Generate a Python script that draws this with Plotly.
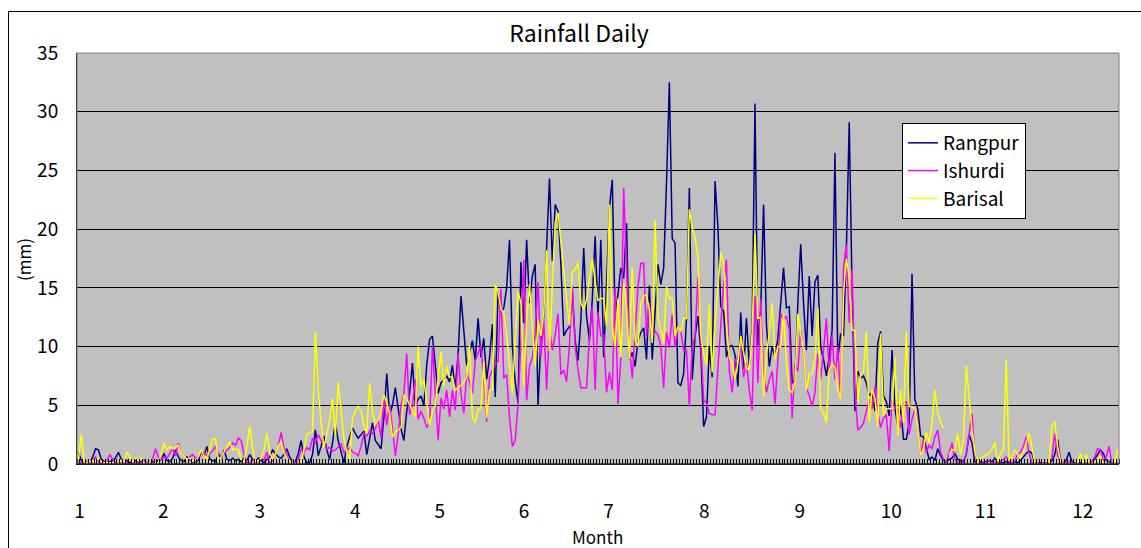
import plotly.graph_objects as go

FONT = "Noto Sans CJK JP"

days = list(range(1, 366))

# month tick labels and their positions (day index on the category axis)
month_labels = ["1", "2", "3", "4", "5", "6", "7", "8", "9", "10", "11", "12"]
month_label_pos = [1.4, 30.7, 64.5, 98.0, 127.6, 157.1, 186.7, 220.2, 253.7, 285.7, 318.7, 352.8]

rangpur = [
    # days 1-31
    1.0, 0.3, 0.1, 0.2, 0.1, 0.6, 1.3, 1.2, 0.4, 0.2,
    0.1, 0.2, 0.3, 0.5, 1.0, 0.4, 0.2, 0.3, 0.1, 0.2,
    0.3, 0.1, 0.2, 0.3, 0.1, 0.0, 0.2, 0.1, 0.3, 0.4,
    0.9,
    # days 32-59
    0.3, 0.2, 0.5, 1.2, 0.6, 0.3, 0.2, 0.6, 0.4, 0.1,
    0.2, 0.3, 1.0, 0.7, 1.5, 0.4, 0.3, 0.2, 0.8, 0.5,
    1.2, 0.4, 0.3, 0.5, 0.3, 0.4, 0.2, 0.5,
    # days 60-131
    0.3, 0.8, 0.4, 0.2, 0.5, 0.3, 0.1, 0.4, 0.6, 1.2,
    0.9, 0.6, 0.5, 0.8, 1.3, 0.6, 0.1, 0.2, 0.9, 2.0,
    0.6, 0.1, 0.1, 0.8, 2.9, 0.7, 1.5, 2.4, 1.2, 0.4,
    1.8, 3.5, 2.0, 1.1, 0.1, 1.5, 2.4, 3.1, 2.6, 2.2,
    2.5, 2.8, 0.8, 2.0, 3.5, 2.0, 1.6, 1.3, 4.0, 7.7,
    4.2, 5.0, 6.5, 4.8, 3.0, 2.0, 4.5, 6.0, 8.6, 5.0,
    5.5, 5.8, 5.0, 8.4, 10.6, 10.9, 8.4, 6.0, 6.9, 7.2,
    7.5, 7.0,
    # days 132-190
    8.4, 6.4, 9.4, 14.3, 11.0, 8.4, 9.5, 10.5, 8.8, 12.4,
    9.1, 10.7, 7.2, 9.0, 11.9, 5.7, 14.7, 12.9, 13.3, 15.0,
    19.1, 10.0, 7.0, 5.2, 17.2, 12.0, 19.1, 13.7, 16.0, 17.0,
    5.0, 10.7, 12.6, 18.2, 24.3, 17.3, 22.1, 21.5, 17.0, 10.9,
    11.4, 11.7, 14.7, 10.5, 8.8, 12.3, 18.4, 12.6, 10.5, 14.0,
    19.4, 12.6, 19.1, 9.1, 15.0, 21.8, 24.2, 12.5, 14.5,
    # days 191-249
    16.7, 15.8, 20.5, 8.9, 9.5, 8.3, 10.5, 11.2, 11.6, 8.9,
    15.2, 8.9, 13.3, 17.0, 15.3, 16.7, 24.0, 32.5, 19.2, 18.8,
    6.9, 6.7, 7.7, 12.4, 23.5, 7.2, 10.9, 12.6, 9.7, 3.2,
    4.0, 10.0, 7.4, 24.1, 20.2, 13.4, 13.0, 9.1, 10.0, 10.1,
    9.3, 6.6, 12.9, 8.1, 12.4, 8.4, 11.7, 30.7, 10.1, 13.1,
    22.1, 11.9, 8.3, 10.0, 9.1, 10.7, 13.7, 16.7, 13.3,
    # days 250-310
    13.4, 6.9, 7.2, 13.7, 18.7, 13.7, 9.7, 16.0, 10.9, 15.5,
    16.1, 10.0, 8.9, 7.5, 9.1, 11.4, 26.5, 8.9, 11.1, 10.9,
    18.2, 29.1, 14.9, 4.5, 7.9, 7.3, 7.5, 6.9, 5.8, 6.1,
    4.5, 10.3, 11.3, 5.8, 5.3, 4.1, 9.7, 4.8, 3.2, 5.0,
    2.1, 2.1, 3.5, 16.2, 5.5, 4.7, 2.4, 2.3, 1.3, 0.4,
    0.6, 0.3, 1.3, 0.7, 0.3, 0.2, 0.4, 0.5, 0.9, 0.4,
    0.3,
    # days 311-365
    0.2, 0.8, 2.5, 1.8, 0.2, 0.1, 0.2, 0.1, 0.2, 0.3,
    0.2, 0.5, 0.2, 0.1, 0.1, 0.2, 0.1, 0.1, 0.2, 0.1,
    0.3, 0.6, 0.9, 1.1, 0.9, 0.1, 0.0, 0.1, 0.0, 0.1,
    0.0, 0.3, 0.8, 2.1, 0.2, 0.1, 0.3, 1.0, 0.2, 0.1,
    0.0, 0.1, 0.2, 0.0, 0.1, 0.2, 0.4, 0.8, 1.2, 0.9,
    0.3, 0.2, 0.1, 0.0, 0.1,
]

ishurdi = [
    # days 1-31
    0.2, 0.1, 0.1, 0.2, 0.1, 0.3, 0.6, 0.2, 0.1, 0.1,
    0.3, 0.8, 0.4, 0.1, 0.1, 0.2, 0.1, 0.1, 0.0, 0.1,
    0.2, 0.1, 0.1, 0.2, 0.1, 0.0, 0.4, 1.3, 0.6, 0.4,
    0.6,
    # days 32-60
    0.5, 0.9, 1.3, 0.7, 1.8, 0.9, 0.6, 0.4, 0.6,
    0.8, 0.5, 0.6, 0.9, 1.0, 0.7, 0.9, 1.1, 1.5, 0.9,
    0.7, 1.0, 1.2, 1.4, 1.8, 1.6, 2.2, 2.0, 0.8, 0.1,
    # days 61-131
    0.1, 0.3, 0.4, 0.2, 0.5, 0.3, 1.0, 0.0, 0.3, 0.8,
    1.5, 2.7, 1.4, 0.8, 0.3, 0.2, 0.1, 0.4, 1.3, 1.0,
    1.4, 1.2, 2.2, 1.8, 2.5, 2.0, 1.7, 1.3, 1.4, 1.1,
    1.2, 1.5, 1.7, 1.0, 1.2, 1.4, 1.0, 0.9, 0.7, 1.5,
    2.6, 2.4, 2.8, 2.6, 3.0, 3.8, 2.2, 5.6, 3.3, 5.1,
    3.0, 0.7, 2.5, 5.0, 6.0, 9.4, 4.2, 5.0, 7.2, 3.8,
    4.5, 3.9, 3.1, 3.5, 10.0, 5.5, 2.0, 5.6, 4.7, 6.3,
    4.0,
    # days 132-190
    6.3, 4.6, 9.4, 6.0, 4.3, 7.7, 7.0, 6.0, 8.8, 9.5,
    10.1, 7.0, 3.6, 7.4, 8.0, 8.6, 8.7, 14.9, 7.3, 7.6,
    4.0, 1.5, 2.0, 5.2, 10.5, 17.4, 5.4, 8.3, 9.1, 11.1,
    15.5, 9.1, 12.3, 6.3, 11.6, 9.7, 11.0, 12.8, 7.6, 8.0,
    7.0, 10.1, 15.2, 10.0, 8.0, 6.5, 6.5, 6.5, 10.9, 13.4,
    6.3, 12.9, 10.9, 11.0, 6.1, 7.8, 6.3, 15.1, 5.1,
    # days 191-249
    9.0, 23.5, 15.8, 10.0, 7.3, 11.7, 15.1, 17.1, 17.1, 10.9,
    13.7, 10.9, 11.3, 11.0, 10.0, 6.5, 11.2, 9.9, 12.8, 10.0,
    11.7, 11.3, 9.7, 9.7, 4.9, 10.0, 10.9, 15.9, 10.9, 5.4,
    5.2, 4.3, 4.2, 4.2, 8.1, 12.3, 15.4, 17.4, 7.9, 6.1,
    8.8, 9.1, 10.0, 7.4, 8.6, 6.3, 4.6, 14.3, 6.9, 14.0,
    7.7, 6.1, 7.2, 7.9, 5.1, 8.8, 12.8, 12.3, 12.6,
    # days 250-365
    11.4, 3.9, 8.5, 7.9, 11.4, 9.4, 6.5, 5.8, 4.9, 6.1,
    9.4, 7.2, 9.7, 12.4, 7.7, 11.0, 7.2, 10.0, 5.5, 16.8,
    18.7, 12.0, 16.6, 6.3, 2.9, 3.1, 3.5, 4.4, 5.5, 4.7,
    6.6, 4.4, 3.1, 3.9, 4.2, 1.1, 5.5, 4.7, 4.7, 3.1,
    5.2, 5.3, 2.5, 3.8, 4.7, 3.5, 0.7, 2.1, 1.0, 1.6,
    1.3, 2.3, 2.9, 1.0, 0.4, 0.1, 1.0, 1.8, 0.4, 0.1,
    0.1, 0.2, 0.8, 2.6, 4.3, 0.8, 0.1, 0.1, 0.2, 0.1,
    0.3, 0.1, 0.2, 0.1, 0.2, 0.4, 0.6, 0.2, 0.1, 0.3,
    0.8, 1.0, 1.5, 2.3, 0.9, 0.1, 0.0, 0.1, 0.0, 0.1,
    0.1, 0.1, 0.5, 2.6, 0.8, 0.0, 0.1, 0.1, 0.2, 0.1,
    0.0, 0.1, 0.0, 0.1, 0.0, 0.1, 0.2, 0.6, 1.3, 1.2,
    0.3, 0.6, 1.5, 0.1, 0.0, 0.1,
]

barisal = [
    # days 1-31
    0.3, 2.5, 0.2, 0.1, 0.2, 0.3, 0.2, 0.5, 0.2, 0.1,
    0.1, 0.1, 0.1, 0.0, 0.1, 0.3, 0.2, 1.0, 0.6, 0.2,
    0.5, 0.3, 0.5, 0.1, 0.0, 0.1, 0.0, 0.1, 0.1, 0.8,
    1.8,
    # days 32-67
    1.2, 1.5, 1.3, 1.4, 1.6, 0.9, 0.6, 0.4, 0.5,
    0.2, 0.3, 0.6, 1.2, 0.7, 0.4, 1.2, 2.1, 2.1, 0.3,
    0.6, 1.0, 1.4, 1.9, 1.2, 1.3, 1.2, 0.4, 0.2, 1.5,
    3.2, 1.3, 0.2, 0.3, 0.5, 1.2, 2.6,
    # days 68-131
    1.0, 0.4, 0.8, 1.5, 1.9, 1.0, 0.5, 0.3, 0.1, 0.0,
    0.0, 0.0, 1.2, 2.5, 2.6, 2.8, 11.3, 6.3, 3.5, 1.4,
    2.5, 3.8, 5.6, 2.4, 7.0, 4.5, 2.2, 1.0, 0.4, 3.9,
    4.5, 4.9, 4.5, 3.3, 2.6, 6.9, 4.5, 3.3, 3.8, 4.5,
    5.9, 5.2, 4.3, 2.3, 2.7, 2.9, 3.1, 5.9, 5.5, 5.1,
    4.5, 4.0, 10.0, 6.6, 7.2, 5.0, 3.3, 4.5, 5.0, 7.2,
    9.6, 6.6, 8.3, 7.4,
    # days 132-249
    7.4, 6.3, 6.5, 6.7, 7.0, 7.4, 10.1, 4.0, 3.5, 4.7,
    4.7, 8.7, 3.9, 6.3, 6.3, 15.3, 14.6, 13.2, 12.8, 10.9,
    8.5, 6.0, 10.6, 14.7, 13.7, 6.6, 12.3, 15.3, 11.7, 8.3,
    12.3, 10.9, 12.9, 18.2, 9.6, 15.5, 20.6, 21.4, 18.7, 16.6,
    14.0, 11.8, 16.3, 16.6, 17.1, 13.7, 13.2, 14.0, 15.8, 17.5,
    15.5, 13.9, 14.1, 14.1, 11.7, 22.1, 11.7, 10.0, 14.1, 9.1,
    15.4, 13.3, 8.9, 16.8, 10.6, 10.0, 13.7, 14.3, 14.4, 13.1,
    10.3, 20.8, 12.5, 11.3, 10.3, 15.1, 14.1, 14.1, 10.9, 11.7,
    11.3, 12.4, 12.4, 21.7, 20.1, 19.2, 17.7, 10.9, 9.4, 8.4,
    13.6, 7.8, 12.0, 15.0, 18.0, 17.0, 12.0, 9.1, 8.6, 7.2,
    8.6, 10.9, 9.4, 8.1, 8.1, 11.2, 19.6, 12.4, 12.5, 5.7,
    9.3, 11.2, 13.7, 8.9, 10.0, 10.0, 12.8, 8.6,
    # days 250-365 (one missing day)
    6.3, 6.1, 6.9, 12.8, 11.1, 9.7, 6.3, 7.7, 7.7, 8.9,
    13.3, 4.7, 4.4, 3.5, 8.0, 8.5, 8.2, 6.4, 5.5, 14.5,
    17.5, 15.9, 11.4, 11.4, 5.2, 7.7, 7.9, 11.3, 3.6, 6.3,
    5.6, 3.2, 11.1, 4.1, 4.7, 4.7, 4.7, 9.1, 2.4, 6.3,
    3.5, 11.3, 4.9, 4.9, 4.7, 3.2, 0.7, 1.3, 2.7, 1.8,
    3.5, 6.3, 4.4, 3.5, 3.1, None, 0.8, 1.2, 1.2, 2.6,
    0.8, 2.0, 8.4, 5.9, 2.9, 1.1, 0.0, 0.5, 0.6, 0.8,
    0.9, 1.3, 1.8, 0.2, 0.9, 1.2, 8.9, 0.3, 0.6, 1.2,
    0.9, 0.5, 1.0, 1.8, 2.6, 1.5, 0.0, 0.0, 0.0, 0.0,
    0.0, 0.0, 3.2, 3.6, 1.5, 0.2, 0.0, 0.0, 0.0, 0.0,
    0.0, 0.1, 0.9, 0.0, 0.8, 0.0, 0.0, 0.0, 0.3, 0.7,
    0.0, 0.0, 0.0, 0.0, 0.0, 1.2,
]

series_names = ["Rangpur", "Ishurdi", "Barisal"]
series_values = [rangpur, ishurdi, barisal]
series_colors = ["#000080", "#FF00FF", "#FFFF00"]

fig = go.Figure()
for name, vals, col in zip(series_names, series_values, series_colors):
    fig.add_trace(go.Scatter(
        x=days[:len(vals)], y=vals, mode="lines", name=name,
        line=dict(color=col, width=1.5), connectgaps=False,
    ))

W, H = 1141, 548
L, R, T, B = 77, 22, 53, 84
pw, ph = W - L - R, H - T - B


def px_x(px):
    return (px - L) / pw


def px_y(py):
    return (H - B - py) / ph


fig.update_layout(
    width=W, height=H,
    margin=dict(l=L, r=R, t=T, b=B, pad=0),
    paper_bgcolor="white",
    plot_bgcolor="#C0C0C0",
    font=dict(family=FONT, color="black", size=18),
    title=dict(text="Rainfall Daily", x=579 / W, xref="container", xanchor="center",
               y=1 - 33.5 / H, yref="container", yanchor="middle",
               font=dict(family=FONT, size=23, color="black")),
    showlegend=True,
    legend=dict(x=px_x(902), y=px_y(123), xanchor="left", yanchor="top",
                bgcolor="white", bordercolor="black", borderwidth=1,
                font=dict(family=FONT, size=19, color="black"),
                itemwidth=30, tracegroupgap=0),
    xaxis=dict(
        range=[0.5, 365.5], tickmode="array", tickvals=month_label_pos,
        ticktext=month_labels, ticks="", showgrid=False, zeroline=False,
        showline=True, linecolor="black", linewidth=1,
        tickfont=dict(family=FONT, size=19, color="black"),
        ticklabelstandoff=30,
        minor=dict(ticks="inside", ticklen=5, tickcolor="#000000", tickwidth=1,
                   tickmode="linear", tick0=0.5, dtick=1, showgrid=False),
        fixedrange=True,
    ),
    yaxis=dict(
        range=[0, 35], tickmode="linear", tick0=0, dtick=5,
        showgrid=True, gridcolor="#000000", gridwidth=1, zeroline=False,
        ticks="inside", ticklen=6, tickcolor="black",
        showline=True, linecolor="black", linewidth=1,
        tickfont=dict(family=FONT, size=19, color="black"),
        ticklabelstandoff=14,
        fixedrange=True,
    ),
    shapes=[
        dict(type="rect", xref="paper", yref="paper", x0=0, x1=1, y0=0, y1=1,
             line=dict(color="#808080", width=1), fillcolor="rgba(0,0,0,0)", layer="above"),
        dict(type="line", xref="paper", yref="paper", x0=0, x1=1, y0=0, y1=0,
             line=dict(color="black", width=1), layer="above"),
        dict(type="rect", xref="paper", yref="paper",
             x0=px_x(8.5), x1=px_x(1200), y0=px_y(600), y1=px_y(11.5),
             line=dict(color="black", width=1), fillcolor="rgba(0,0,0,0)", layer="below"),
    ],
    annotations=[
        dict(text="(mm)", xref="paper", yref="paper", x=px_x(23), y=px_y(260),
             textangle=-90, showarrow=False, xanchor="center", yanchor="middle",
             font=dict(family=FONT, size=17, color="black")),
        dict(text="Month", xref="paper", yref="paper", x=px_x(597.5), y=px_y(536.5),
             showarrow=False, xanchor="center", yanchor="middle",
             font=dict(family=FONT, size=17, color="black")),
    ],
)

fig.write_html("out.html")
